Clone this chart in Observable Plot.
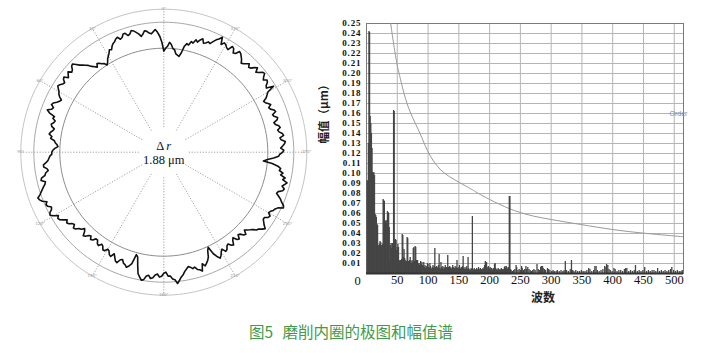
<!DOCTYPE html>
<html><head><meta charset="utf-8">
<script src="https://cdn.jsdelivr.net/npm/d3@7"></script>
<script src="https://cdn.jsdelivr.net/npm/@observablehq/plot@0.6"></script>
<style>
body{margin:0;background:#fff;}
#wrap{position:relative;width:707px;height:353px;overflow:hidden;background:#fff;}
#polar{position:absolute;left:0;top:0;}
#spec{position:absolute;left:315px;top:0;}
#cap{position:absolute;left:0;top:321px;width:702px;text-align:center;font-family:"Noto Sans CJK SC";font-size:15.5px;color:#3f9a4a;line-height:20px;word-spacing:6px;}
.spec g[aria-label="y-axis tick label"] text{letter-spacing:0.9px;}
</style></head><body>
<div id="wrap"><div id="polar"></div><div id="spec"></div><div id="cap">图5 磨削内圈的极图和幅值谱</div></div>
<script>
// ---------- polar (roundness) profile: radius at each degree, clockwise from top ----------
const profileRadii = [
101,104,106,110,108,104,103,99,98,97,101,108,111,110,114,113,117,115,118,120,116,117,119,118,121,124,126,129,122,125,
124,122,121,126,125,121,122,126,125,123,121,118,119,121,123,120,121,124,126,122,124,127,128,125,123,126,125,122,121,128,
120,118,116,112,113,115,117,114,115,118,119,115,116,119,118,114,115,118,119,116,117,120,121,117,118,122,121,119,117,120,
119,116,115,110,104,100,109,115,118,117,121,119,124,122,127,125,123,126,125,121,120,123,126,128,131,132,127,125,124,122,
121,124,123,120,120,122,124,127,125,122,121,118,116,114,112,116,115,112,111,115,114,110,112,116,115,112,113,116,117,113,
115,118,120,117,113,105,108,114,117,119,121,118,125,123,122,119,120,118,117,119,121,124,126,129,132,128,127,124,124,120,
121,124,125,122,123,126,127,124,125,129,130,127,124,116,108,106,116,119,121,119,118,115,116,120,119,116,113,117,116,113,
112,115,115,112,111,114,113,110,110,113,114,111,112,115,116,112,110,113,114,117,118,115,116,119,120,118,121,124,125,123,
127,130,129,126,125,128,129,127,131,133,134,131,129,127,125,123,122,126,125,121,120,117,118,121,121,118,116,115,114,112,
112,111,109,106,107,109,110,114,113,116,115,113,112,115,116,114,113,116,115,121,124,120,119,122,121,118,116,115,118,120,
121,123,125,124,122,121,124,125,121,123,125,122,123,126,127,124,121,119,117,115,112,110,108,111,110,108,107,104,106,109,
111,113,116,115,118,120,121,123,124,121,122,125,125,122,123,126,125,123,121,118,120,123,122,120,119,121,123,120,116,110
];
const profileAngles = d3.range(profileRadii.length);
const ringRadii = [104, 130, 143];
const spokeAngles = [0,30,60,90,120,150,180,210,240,270,300,330];
const angleLabels = ["0°","330°","300°","270°","240°","210°","180°","150°","120°","90°","60°","30°"];
const deltaR = "1.88 μm";

// ---------- amplitude spectrum: [order, amplitude μm] ----------
const spectrum = [
[1,0.093],[2,0.092],[3,0.13],[4,0.242],[5,0.241],[6,0.157],[7,0.15],[8,0.14],[9,0.125],[10,0.101],[11,0.1],[12,0.101],[13,0.098],[14,0.059],[15,0.058],[16,0.056],
[17,0.049],[18,0.048],[19,0.028],[20,0.027],[21,0.029],[22,0.032],[23,0.031],[24,0.028],[25,0.027],[26,0.029],[27,0.074],[28,0.073],[29,0.072],[30,0.053],
[31,0.052],[32,0.05],[33,0.053],[34,0.062],[35,0.061],[36,0.06],[37,0.046],[38,0.013],[39,0.028],[40,0.03],[41,0.025],[42,0.03],[43,0.02],[44,0.163],[45,0.162],
[46,0.033],[47,0.034],[48,0.033],[49,0.023],[50,0.026],[51,0.029],[52,0.026],[53,0.013],[54,0.012],[55,0.013],[56,0.011],[57,0.014],[58,0.039],[59,0.038],
[60,0.016],[61,0.024],[62,0.015],[63,0.013],[64,0.01],[65,0.012],[66,0.036],[67,0.035],[68,0.012],[69,0.011],[70,0.013],[71,0.016],[72,0.012],[73,0.01],
[74,0.013],[75,0.011],[76,0.025],[77,0.026],[78,0.012],[79,0.027],[80,0.026],[81,0.013],[82,0.012],[83,0.013],[84,0.009],[85,0.01],[86,0.008],[87,0.01],
[88,0.012],[89,0.009],[90,0.011],[91,0.008],[92,0.007],[93,0.011],[94,0.006],[95,0.008],[96,0.005],[97,0.007],[98,0.006],[99,0.01],[100,0.009],[101,0.006],
[102,0.005],[103,0.01],[104,0.007],[105,0.005],[106,0.004],[107,0.006],[108,0.008],[109,0.005],[110,0.007],[111,0.025],[112,0.006],[113,0.004],[114,0.007],
[115,0.005],[116,0.006],[117,0.008],[118,0.019],[119,0.005],[120,0.004],[121,0.011],[122,0.006],[123,0.005],[124,0.007],[125,0.004],[126,0.006],[127,0.005],
[128,0.008],[129,0.004],[130,0.006],[131,0.005],[132,0.018],[133,0.006],[134,0.004],[135,0.007],[136,0.005],[137,0.006],[138,0.004],[139,0.005],[140,0.008],
[141,0.006],[142,0.004],[143,0.005],[144,0.007],[145,0.005],[146,0.006],[147,0.013],[148,0.005],[149,0.004],[150,0.006],[151,0.008],[152,0.005],[153,0.004],
[154,0.006],[155,0.005],[156,0.007],[157,0.017],[158,0.005],[159,0.004],[160,0.006],[161,0.004],[162,0.005],[163,0.007],[164,0.004],[165,0.016],[166,0.005],
[167,0.003],[168,0.004],[169,0.003],[170,0.005],[171,0.004],[172,0.057],[173,0.004],[174,0.003],[175,0.005],[176,0.004],[177,0.003],[178,0.004],[179,0.005],
[180,0.003],[181,0.004],[182,0.006],[183,0.003],[184,0.004],[185,0.005],[186,0.003],[187,0.004],[188,0.003],[189,0.005],[190,0.004],[191,0.006],[192,0.008],
[193,0.012],[194,0.009],[195,0.011],[196,0.006],[197,0.004],[198,0.007],[199,0.005],[200,0.004],[201,0.006],[202,0.003],[203,0.005],[204,0.004],[205,0.003],
[206,0.005],[207,0.004],[208,0.009],[209,0.01],[210,0.005],[211,0.003],[212,0.004],[213,0.003],[214,0.005],[215,0.004],[216,0.003],[217,0.004],[218,0.003],
[219,0.005],[220,0.003],[221,0.004],[222,0.003],[223,0.004],[224,0.006],[225,0.007],[226,0.005],[227,0.007],[228,0.006],[229,0.004],[230,0.005],[231,0.006],
[232,0.077],[233,0.077],[234,0.004],[235,0.003],[237,0.002],[239,0.003],[241,0.004],[243,0.008],[244,0.006],[246,0.003],[248,0.004],[250,0.003],[252,0.007],
[253,0.005],[255,0.003],[257,0.004],[259,0.007],[260,0.004],[262,0.006],[264,0.004],[266,0.003],[268,0.002],[270,0.003],[272,0.004],[274,0.003],[277,0.009],
[279,0.004],[281,0.003],[283,0.006],[284,0.007],[286,0.007],[287,0.005],[289,0.004],[291,0.003],[294,0.005],[296,0.004],[298,0.003],[301,0.002],[303,0.003],
[305,0.002],[308,0.002],[310,0.003],[313,0.002],[316,0.003],[319,0.002],[321,0.003],[323,0.012],[325,0.003],[328,0.002],[331,0.004],[333,0.013],[335,0.003],
[337,0.002],[340,0.003],[343,0.002],[346,0.002],[349,0.003],[352,0.002],[355,0.002],[358,0.003],[361,0.005],[363,0.004],[366,0.002],[369,0.003],[371,0.007],
[373,0.007],[375,0.003],[378,0.002],[381,0.003],[384,0.004],[387,0.007],[389,0.006],[390,0.009],[392,0.008],[394,0.004],[396,0.003],[399,0.002],[402,0.005],
[404,0.004],[407,0.002],[410,0.003],[413,0.003],[416,0.002],[419,0.004],[421,0.005],[423,0.005],[426,0.002],[429,0.003],[432,0.002],[435,0.003],[437,0.008],
[440,0.002],[443,0.003],[446,0.002],[449,0.003],[452,0.006],[455,0.002],[458,0.003],[461,0.002],[464,0.003],[467,0.003],[470,0.002],[473,0.005],[476,0.002],
[479,0.003],[482,0.002],[485,0.003],[488,0.002],[491,0.003],[494,0.004],[496,0.006],[499,0.003],[502,0.002],[505,0.003],[508,0.002],[511,0.002],[513,0.003]
];
// limit curve ("Order")
const orderLimit = [[39.3,0.25],[45,0.226],[50,0.208],[53,0.2],[61,0.18],[72,0.16],[87,0.14],[99,0.123],[120,0.104],[151,0.091],[174,0.083],[185,0.079],
[240,0.063],[300,0.054],[348,0.049],[400,0.044],[456,0.040],[510,0.037],[515,0.0365]];
const xTicks = [50,100,150,200,250,300,350,400,450,500];
const yTicks = [0.01,0.02,0.03,0.04,0.05,0.06,0.07,0.08,0.09,0.10,0.11,0.12,0.13,0.14,0.15,0.16,0.17,0.18,0.19,0.20,0.21,0.22,0.23,0.24,0.25];
const yLabel = "幅值（μm）";
const xLabel = "波数";
const curveLabel = "Order";

// ---------- polar chart ----------
const toXY = (deg, r) => { const a = deg * Math.PI / 180; return [r * Math.sin(a), r * Math.cos(a)]; };
const ringLine = r => d3.range(0, 362, 2).map(a => toXY(a, r));
const spokeInner = 25;
const R = 143;
const polar = Plot.plot({
  width: 315, height: 305,
  marginLeft: 20.3, marginRight: 8.7, marginTop: 8.7, marginBottom: 10.3,
  style: {background: "transparent"},
  x: {domain: [-R, R], axis: null},
  y: {domain: [-R, R], axis: null},
  marks: [
    Plot.link(spokeAngles, {x1: a => toXY(a, spokeInner)[0], y1: a => toXY(a, spokeInner)[1], x2: a => toXY(a, R)[0], y2: a => toXY(a, R)[1],
      stroke: "#8a8a8a", strokeWidth: 0.8, strokeDasharray: "1.2,1.6"}),
    Plot.line(ringLine(ringRadii[2]), {x: d => d[0], y: d => d[1], stroke: "#c4c4c4", strokeWidth: 1}),
    Plot.line(ringLine(ringRadii[1]), {x: d => d[0], y: d => d[1], stroke: "#a8a8a8", strokeWidth: 1}),
    Plot.line(ringLine(ringRadii[0]), {x: d => d[0], y: d => d[1], stroke: "#8c8c8c", strokeWidth: 1}),
    Plot.text(spokeAngles, {x: a => toXY(a, R)[0], y: a => toXY(a, R)[1], text: (a, i) => angleLabels[i], fontSize: 4, fill: "#999", fontFamily: "DejaVu Sans"}),
    Plot.line(profileAngles, {x: a => toXY(a, profileRadii[a])[0], y: a => toXY(a, profileRadii[a])[1], curve: "linear-closed", stroke: "#111", strokeWidth: 1.6}),
    Plot.text(["Δ"], {x: 0, y: 0, dx: -3.5, dy: -6.5, fontSize: 12.5, fontFamily: "Liberation Serif", fill: "#111"}),
    Plot.text(["r"], {x: 0, y: 0, dx: 5, dy: -6.5, fontSize: 12.5, fontStyle: "italic", fontFamily: "Liberation Serif", fill: "#111"}),
    Plot.text([deltaR], {x: 0, y: 0, dx: 0, dy: 7.5, fontSize: 12.5, fontFamily: "Liberation Serif", fill: "#111"})
  ]
});
document.getElementById("polar").appendChild(polar);

// ---------- spectrum chart ----------
const spec = Plot.plot({
  width: 392, height: 318,
  marginLeft: 51, marginRight: 24, marginTop: 23, marginBottom: 45,
  className: "spec",
  style: {background: "transparent", fontFamily: "Liberation Serif"},
  x: {domain: [0, 515], axis: null},
  y: {domain: [0, 0.25], axis: null},
  marks: [
    Plot.gridY(yTicks, {stroke: "#b5b5b5", strokeOpacity: 1, strokeWidth: 1}),
    Plot.gridX(xTicks, {stroke: "#b5b5b5", strokeOpacity: 1, strokeWidth: 1}),
    Plot.frame({stroke: "#7a7a7a"}),
    Plot.line(orderLimit, {x: d => d[0], y: d => d[1], stroke: "#9a9a9a", strokeWidth: 1, curve: "natural", clip: true}),
    Plot.ruleX(spectrum, {x: d => d[0], y1: 0, y2: d => d[1], stroke: "#454545", strokeWidth: 1.3}),
    Plot.ruleY([0], {stroke: "#333", strokeWidth: 2}),
    Plot.axisY({ticks: yTicks, tickSize: 0, tickPadding: 5, tickFormat: d3.format(".2f"), fontSize: 9, fontWeight: "bold", fill: "#111", label: null}),
    Plot.axisX({ticks: xTicks, tickSize: 0, tickPadding: 1.5, tickFormat: d3.format("d"), fontSize: 12.5, fill: "#111", label: null}),
    Plot.text(["0"], {x: 0, y: 0, dx: -9, dy: 7, fontSize: 12.5, fill: "#111"}),
    Plot.text([yLabel], {frameAnchor: "left", dx: -42, dy: -5, rotate: -90, fontSize: 11.5, fontWeight: "bold", fontFamily: "Noto Sans CJK SC", fill: "#222"}),
    Plot.text([xLabel], {frameAnchor: "bottom", dx: 18, dy: 28, fontSize: 12, fontWeight: "bold", fontFamily: "Noto Sans CJK SC", fill: "#222"}),
    Plot.text([curveLabel], {x: 515, y: 0.16, dx: -14, textAnchor: "start", fontSize: 7, fill: "#888", fontFamily: "Liberation Sans"})
  ]
});
document.getElementById("spec").appendChild(spec);
</script>
</body></html>
